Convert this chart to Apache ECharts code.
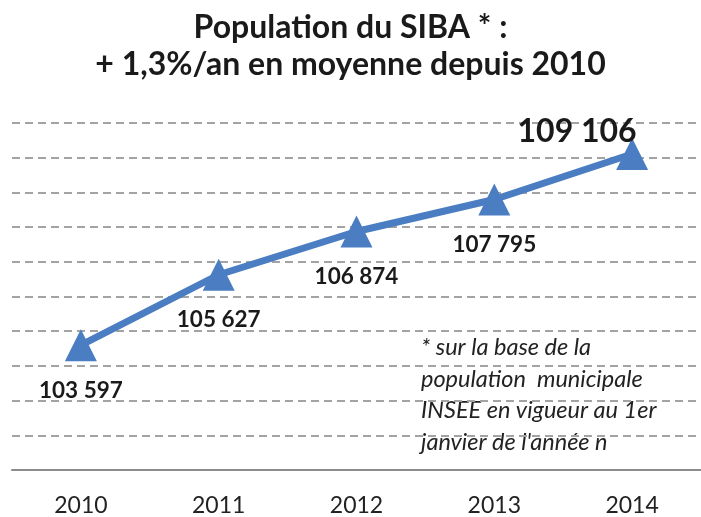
<!DOCTYPE html>
<html>
<head>
<meta charset="utf-8">
<script src="https://cdn.jsdelivr.net/npm/echarts@6/dist/echarts.min.js"></script>
<style>
  html, body { margin: 0; padding: 0; background: #fff; }
  #chart { width: 701px; height: 517px; }
</style>
</head>
<body>
<div id="chart"></div>
<script>
// annees et population (SIBA)
var years = ['2010', '2011', '2012', '2013', '2014'];
var population = [103597, 105627, 106874, 107795, 109106];
var yMin = 100000, yMax = 110000, yStep = 1000;
var noteLines = ['* sur la base de la', 'population  municipale', 'INSEE en vigueur au 1er', "janvier de l'année n"];

var blue = '#4a7dc1';

function fmt(v) {
  // 103597 -> "103 597"
  return String(v).replace(/\B(?=(\d{3})+(?!\d))/g, ' ');
}

var chart = echarts.init(document.getElementById('chart'));

var seriesData = population.map(function (v, i) {
  var item = { value: v };
  if (i === population.length - 1) {
    // dernier point : etiquette plus grande au-dessus
    item.label = {
      position: 'top',
      distance: 0,
      offset: [-55, 10],
      fontSize: 32
    };
  }
  return item;
});

chart.setOption({
  animation: false,
  title: {
    text: 'Population du SIBA * :\n+ 1,3%/an en moyenne depuis 2010',
    left: 'center',
    top: 9,
    padding: 0,
    textStyle: {
      fontFamily: 'Lato',
      fontWeight: 'bold',
      fontSize: 32,
      lineHeight: 37,
      color: '#1a1a1a'
    }
  },
  grid: {
    left: 12,
    right: 0,
    top: 123,
    bottom: 45
  },
  xAxis: {
    type: 'category',
    data: years,
    boundaryGap: true,
    axisLine: { show: true, lineStyle: { color: '#8c8c8c', width: 2 } },
    axisTick: { show: false },
    axisLabel: {
      margin: 24,
      fontFamily: 'Lato',
      fontSize: 23,
      color: '#222'
    }
  },
  yAxis: {
    type: 'value',
    min: yMin,
    max: yMax,
    interval: yStep,
    axisLine: { show: false },
    axisTick: { show: false },
    axisLabel: { show: false },
    splitLine: {
      show: true,
      lineStyle: { color: '#a3a3a3', width: 2, type: [8, 5] }
    }
  },
  series: [{
    type: 'line',
    data: seriesData,
    symbol: 'triangle',
    symbolSize: 32,
    lineStyle: { color: blue, width: 7 },
    itemStyle: { color: blue },
    label: {
      show: true,
      position: 'bottom',
      distance: 18,
      formatter: function (p) { return fmt(p.value); },
      fontFamily: 'Lato',
      fontWeight: 'bold',
      fontSize: 22.5,
      color: '#1a1a1a'
    },
    z: 3
  }],
  graphic: [{
    type: 'text',
    left: 421,
    top: 332,
    style: {
      text: noteLines.join('\n'),
      fontFamily: 'Lato',
      fontStyle: 'italic',
      fontSize: 23.5,
      lineHeight: 31.5,
      fill: '#222'
    }
  }]
});
</script>
</body>
</html>
